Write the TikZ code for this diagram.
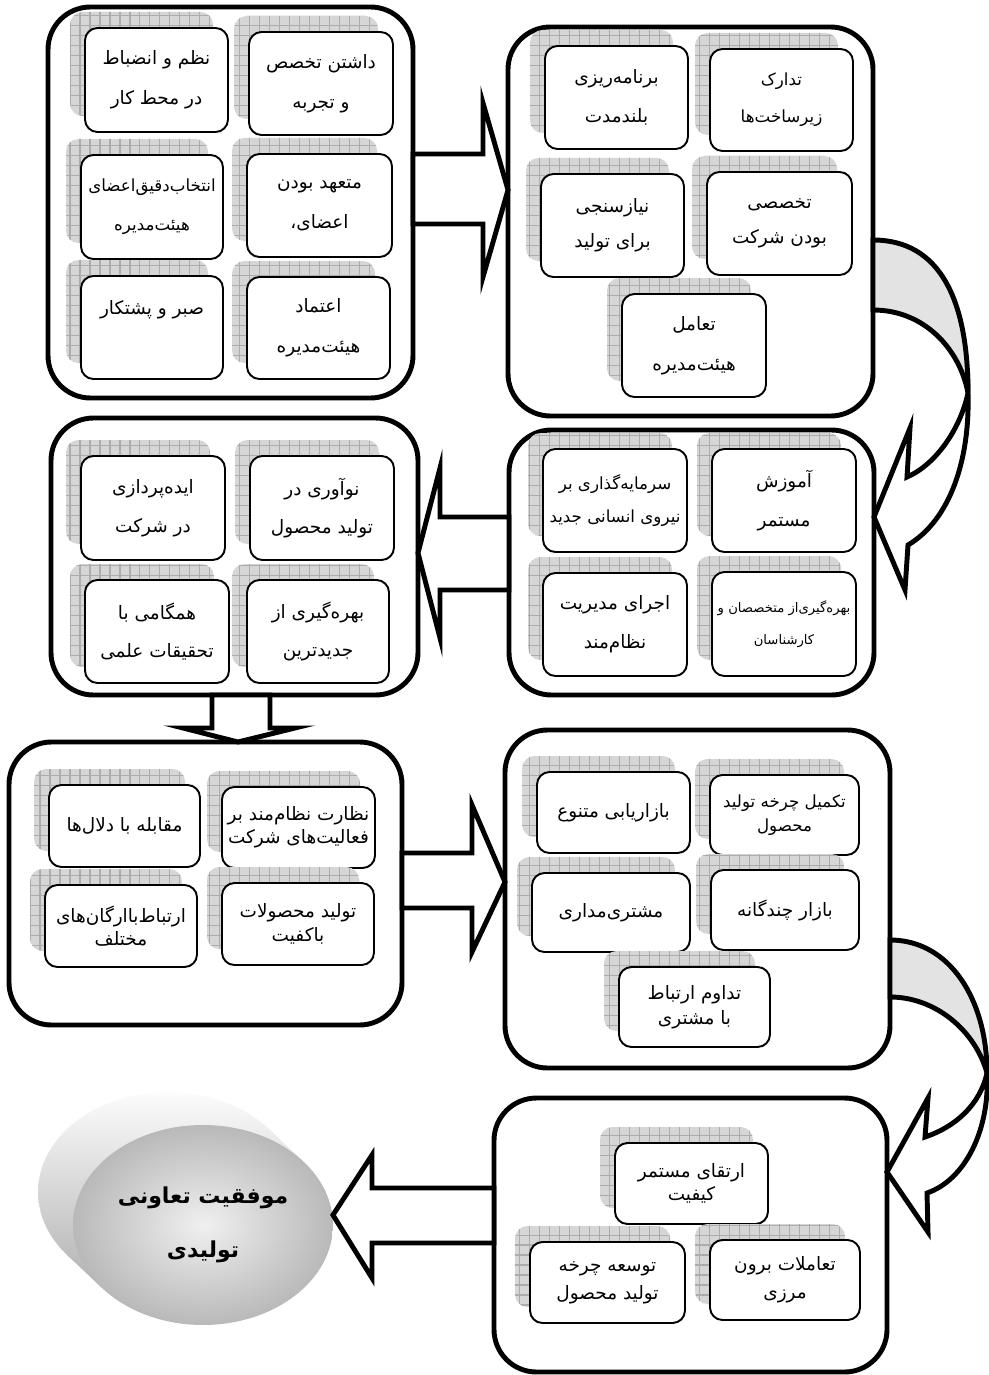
\documentclass[tikz,border=0pt]{standalone}
\usepackage{fontspec}
\usetikzlibrary{shapes.geometric,patterns.meta}
\newfontfamily\arabicfont[Script=Arabic]{DejaVu Sans}
\TeXXeTstate=1
\newcommand\fa[1]{\beginR #1\endR}
\newcommand\fbig{\arabicfont\fontsize{10.5}{12}\selectfont}
\newcommand\fmid{\arabicfont\fontsize{10.5}{12}\selectfont}
\newcommand\fsmall{\arabicfont\fontsize{9.5}{11}\selectfont}
\newcommand\ftiny{\arabicfont\fontsize{7.5}{9}\selectfont}

\tikzstyle{groupbox} = [draw=black, fill=white, line width=2.8pt,
    rectangle, rounded corners=0.85cm, inner sep=0pt, outer sep=0pt]
\tikzstyle{cellbox} = [draw=black, fill=white, line width=1.1pt,
    rectangle, rounded corners=0.25cm, inner sep=2pt, align=center, font=\fbig]
\tikzstyle{cellshadow} = [preaction={fill=gray!32}, rounded corners=0.25cm,
    pattern={Hatch[angle=0, distance=0.2cm, line width=0.6pt]}, pattern color=gray!65]
\tikzstyle{blockarrow} = [draw=black, fill=white, line width=2.8pt, line join=miter]
\tikzstyle{curvearrow} = [draw=black, line width=2.8pt, line join=miter]
\tikzstyle{goalnode} = [ellipse, minimum width=5.2cm, minimum height=4cm, inner sep=0pt,
    outer sep=0pt, inner color=gray!12, outer color=gray!55, align=center,
    font=\arabicfont\bfseries\fontsize{12.5}{15}\selectfont]

% outer box, given by its corners in pixels
\newcommand\stagebox[5]{\node[groupbox, minimum width={(#4-#2)*0.02cm},
    minimum height={(#5-#3)*0.02cm}] (#1) at ({(#2+#4)/2},{(#3+#5)/2}) {};}
% one item with its hatched shadow
\newcommand\stageitem[7][]{\path[cellshadow] (#3-15,#4-16) rectangle (#5-15,#6-16);
  \node[cellbox, minimum width={(#5-#3)*0.02cm}, minimum height={(#6-#4)*0.02cm}, #1]
    (#2) at ({(#3+#5)/2},{(#4+#6)/2}) {#7};}

\begin{document}
\begin{tikzpicture}[x=0.02cm, y=-0.02cm]
\useasboundingbox (0,0) rectangle (989,1375);

% first row
\stagebox{boxA}{48}{7}{413}{398}
\stageitem{A1}{249}{32}{393}{135}{\fa{داشتن تخصص}\\[11pt]\fa{و تجربه}}
\stageitem{A2}{85}{28}{228}{132}{\fa{نظم و انضباط}\\[11pt]\fa{در محط کار}}
\stageitem{A3}{247}{154}{392}{257}{\fa{متعهد بودن}\\[11pt]\fa{اعضای،}}
\stageitem[font=\fsmall]{A4}{81}{155}{223}{259}{\fa{انتخاب‌دقیق‌اعضای}\\[11pt]\fa{هیئت‌مدیره}}
\stageitem{A5}{247}{277}{390}{379}{\fa{اعتماد}\\[11pt]\fa{هیئت‌مدیره}}
\stageitem{A6}{81}{276}{223}{379}{\fa{صبر و پشتکار}\\[11pt]\mbox{}}

\stagebox{boxB}{508}{27}{873}{416}
\stageitem{B1}{545}{46}{688}{149}{\fa{برنامه‌ریزی}\\[10pt]\fa{بلندمدت}}
\stageitem[font=\fsmall]{B2}{710}{49}{853}{151}{\fa{تدارک}\\[10pt]\fa{زیرساخت‌ها}}
\stageitem{B3}{541}{174}{684}{277}{\fa{نیازسنجی}\\[8pt]\fa{برای تولید}}
\stageitem{B4}{707}{172}{852}{275}{\fa{تخصصی}\\[8pt]\fa{بودن شرکت}}
\stageitem{B5}{622}{294}{766}{397}{\fa{تعامل}\\[11pt]\fa{هیئت‌مدیره}}

% second row
\stagebox{boxC1}{51}{418}{418}{695}
\stageitem{C1a}{81}{456}{225}{560}{\fa{ایده‌پردازی}\\[10pt]\fa{در شرکت}}
\stageitem{C1b}{250}{456}{394}{560}{\fa{نوآوری در}\\[10pt]\fa{تولید محصول}}
\stageitem{C1c}{85}{580}{229}{683}{\fa{همگامی با}\\[10pt]\fa{تحقیقات علمی}}
\stageitem{C1d}{247}{580}{389}{683}{\fa{بهره‌گیری از}\\[10pt]\fa{جدیدترین}}

\stagebox{boxC2}{509}{430}{874}{695}
\stageitem[font=\fsmall]{C2a}{543}{449}{687}{552}{\fa{سرمایه‌گذاری بر}\\[8pt]\fa{نیروی انسانی جدید}}
\stageitem{C2b}{712}{449}{856}{552}{\fa{آموزش}\\[10pt]\fa{مستمر}}
\stageitem{C2c}{543}{573}{687}{676}{\fa{اجرای مدیریت}\\[10pt]\fa{نظام‌مند}}
\stageitem[font=\ftiny]{C2d}{712}{572}{856}{676}{\fa{بهره‌گیری‌از متخصصان و}\\[9pt]\fa{کارشناسان}}

% third row
\stagebox{boxD1}{9}{742}{402}{1025}
\stageitem[font=\fmid]{D1a}{49}{785}{200}{867}{\fa{مقابله با دلال‌ها}}
\stageitem[font=\fmid]{D1b}{222}{787}{375}{868}{\fa{نظارت نظام‌مند بر}\\[1pt]\fa{فعالیت‌های شرکت}}
\stageitem[font=\fmid]{D1c}{45}{885}{197}{967}{\fa{ارتباط‌باارگان‌های}\\[1pt]\fa{مختلف}}
\stageitem[font=\fmid]{D1d}{222}{883}{374}{965}{\fa{تولید محصولات}\\[2pt]\fa{باکفیت}}

\stagebox{boxD2}{505}{730}{890}{1068}
\stageitem[font=\fmid]{D2a}{537}{772}{690}{853}{\fa{بازاریابی متنوع}}
\stageitem[font=\fsmall]{D2b}{710}{775}{859}{855}{\fa{تکمیل چرخه تولید}\\[3pt]\fa{محصول}}
\stageitem[font=\fmid]{D2c}{532}{873}{690}{952}{\fa{مشتری‌مداری}}
\stageitem[font=\fmid]{D2d}{711}{870}{859}{950}{\fa{بازار چندگانه}}
\stageitem[font=\fmid]{D2e}{619}{967}{770}{1047}{\fa{تداوم ارتباط}\\[2pt]\fa{با مشتری}}

% last row
\stagebox{boxE2}{494}{1098}{887}{1372}
\stageitem[font=\fmid]{E2a}{615}{1143}{768}{1224}{\fa{ارتقای مستمر}\\[1pt]\fa{کیفیت}}
\stageitem[font=\fmid]{E2b}{530}{1242}{685}{1323}{\fa{توسعه چرخه}\\[4pt]\fa{تولید محصول}}
\stageitem[font=\fmid]{E2c}{710}{1240}{860}{1320}{\fa{تعاملات برون}\\[4pt]\fa{مرزی}}

% the goal, a cylinder lying on its side
\begin{scope}
\clip (168,1192) ellipse [x radius=2.6cm, y radius=2cm];
\shade[top color=white, bottom color=gray!75] (30,1085) rectangle (345,1335);
\end{scope}
\begin{scope}
\clip (268.7,1128.8) -- (303.7,1161.8) -- (102.3,1288.2) -- (67.3,1255.2) -- cycle;
\shade[top color=white, bottom color=gray!75] (30,1085) rectangle (345,1335);
\end{scope}
\node[goalnode] (goal) at (203,1225) {\fa{موفقیت تعاونی}\\[16pt]\fa{تولیدی}};

% arrows
\draw[blockarrow] (boxA.east |- 0,154) -- (483,154) -- (483,103) -- (boxB.west |- 0,190)
  -- (483,277) -- (483,224) -- (boxA.east |- 0,224) -- cycle;
\draw[curvearrow, fill=gray!22] (boxB.east |- 0,240) .. controls (940,240) and (968,300) .. (968,393)
  .. controls (960,350) and (925,310) .. (boxB.east |- 0,310) -- cycle;
\draw[curvearrow, fill=white] (968,393) .. controls (970,460) and (950,520) .. (908,545)
  -- (905,590) -- (boxC2.east |- 0,517) -- (910,428) -- (907,477)
  .. controls (935,465) and (960,430) .. (968,393) -- cycle;
\draw[blockarrow] (boxC2.west |- 0,517) -- (440,517) -- (440,468) -- (boxC1.east |- 0,553)
  -- (440,638) -- (440,590) -- (boxC2.west |- 0,590) -- cycle;
\draw[blockarrow] (boxC1.south -| 212,0) -- (212,728) -- (183,728) -- (boxD1.north -| 238,0)
  -- (295,728) -- (270,728) -- (boxC1.south -| 270,0) -- cycle;
\draw[blockarrow] (boxD1.east |- 0,853) -- (472,853) -- (472,805) -- (boxD2.west |- 0,882)
  -- (472,952) -- (472,908) -- (boxD1.east |- 0,908) -- cycle;
\draw[curvearrow, fill=gray!22] (boxD2.east |- 0,940) .. controls (950,940) and (987,1000) .. (987,1073)
  .. controls (975,1030) and (935,997) .. (boxD2.east |- 0,997) -- cycle;
\draw[curvearrow, fill=white] (987,1073) .. controls (990,1130) and (965,1180) .. (927,1193)
  -- (928,1232) -- (boxE2.east |- 0,1172) -- (928,1098) -- (925,1137)
  .. controls (955,1127) and (980,1105) .. (987,1073) -- cycle;
\draw[blockarrow] (boxE2.west |- 0,1188) -- (372,1188) -- (372,1155) -- (goal.east |- 0,1215)
  -- (372,1278) -- (372,1243) -- (boxE2.west |- 0,1243) -- cycle;
\end{tikzpicture}
\end{document}
